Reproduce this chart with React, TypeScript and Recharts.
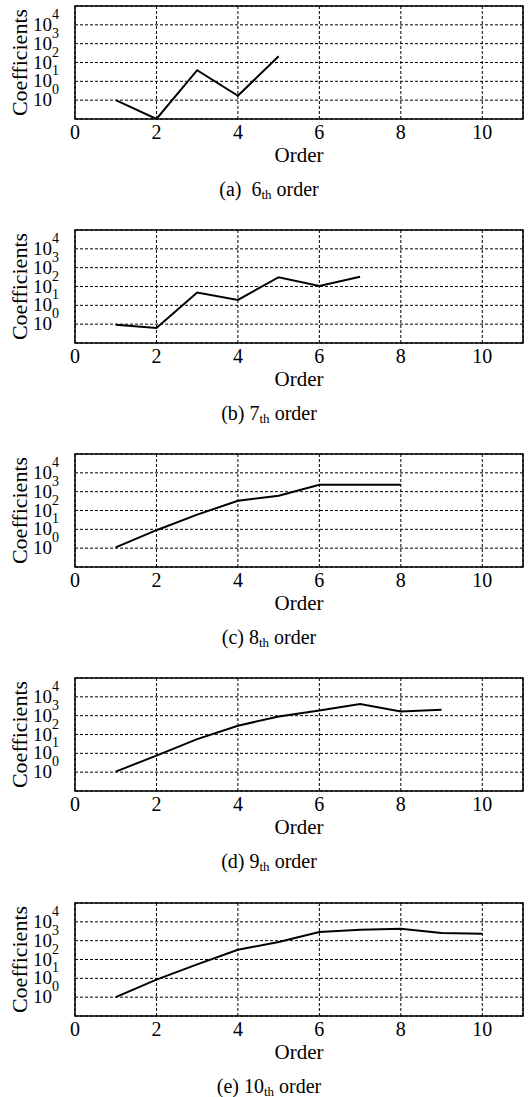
import React from "react";
import {
  LineChart,
  Line,
  XAxis,
  YAxis,
  CartesianGrid,
  ReferenceArea,
} from "recharts";

const orders = [1, 2, 3, 4, 5, 6, 7, 8, 9, 10];
const xTicks = [0, 2, 4, 6, 8, 10];
const yTicks = [1, 10, 100, 1000, 10000];

// coefficient magnitudes
const coef6 = [1, 0.1, 39, 1.7, 215];
const coef7 = [0.93, 0.62, 48, 19.5, 310, 107, 330];
const coef8 = [1.1, 9, 60, 330, 610, 2350, 2350, 2350];
const coef9 = [1.07, 7.6, 57, 290, 910, 1900, 4150, 1690, 2080];
const coef10 = [1, 8.5, 55, 330, 850, 2900, 3850, 4350, 2550, 2350];

const panels = [
  { tag: "(a)\u00a0\u00a06", coef: coef6 },
  { tag: "(b) 7", coef: coef7 },
  { tag: "(c) 8", coef: coef8 },
  { tag: "(d) 9", coef: coef9 },
  { tag: "(e) 10", coef: coef10 },
];

const panelTops = [0, 224, 448, 672, 897];

const font = "'Times New Roman', Times, 'Liberation Serif', serif";

function PowTick(props: any) {
  const { x, y, payload } = props;
  const exp = Math.round(Math.log10(payload.value));
  return (
    <text x={x} y={y} textAnchor="end" fontFamily={font} fill="#000">
      <tspan fontSize={19} dy={6}>10</tspan>
      <tspan fontSize={14} dy={-12}>{exp}</tspan>
    </text>
  );
}

function CoefLabel(props: any) {
  const vb = props.viewBox || {};
  const cy = vb.y + vb.height / 2;
  return (
    <text
      x={19}
      y={cy}
      transform={`rotate(-90, 19, ${cy})`}
      textAnchor="middle"
      dominantBaseline="central"
      fontFamily={font}
      fontSize={22}
      fill="#000"
    >
      Coefficients
    </text>
  );
}

function Panel({ coef, tag, top }: { coef: number[]; tag: string; top: number }) {
  const data = coef.map((c, i) => ({ x: orders[i], c }));
  return (
    <div style={{ position: "absolute", left: 0, top, width: 528, height: 200 }}>
      <LineChart
        width={528}
        height={160}
        data={data}
        margin={{ top: 6, right: 5, left: 0, bottom: 0 }}
      >
        <CartesianGrid stroke="#000" strokeDasharray="3 2" strokeWidth={1} />
        <XAxis
          dataKey="x"
          type="number"
          domain={[0, 11]}
          ticks={xTicks}
          interval={0}
          height={41}
          tickSize={0}
          tickMargin={6}
          axisLine={false}
          tick={{ fill: "#000", fontSize: 20, fontFamily: font }}
        />
        <YAxis
          scale="log"
          domain={[0.1, 100000]}
          ticks={yTicks}
          interval={0}
          allowDataOverflow
          width={75}
          tickSize={0}
          tickMargin={16}
          axisLine={false}
          tick={<PowTick />}
          label={<CoefLabel />}
        />
        <ReferenceArea
          x1={0}
          x2={11}
          y1={0.1}
          y2={100000}
          fill="none"
          fillOpacity={0}
          stroke="#000"
          strokeWidth={1.5}
          ifOverflow="visible"
        />
        <Line
          type="linear"
          dataKey="c"
          stroke="#000"
          strokeWidth={2}
          dot={false}
          isAnimationActive={false}
        />
      </LineChart>
      <div
        style={{
          position: "absolute",
          left: 249,
          width: 100,
          top: 144,
          textAlign: "center",
          fontFamily: font,
          fontSize: 21,
          lineHeight: "22px",
        }}
      >
        Order
      </div>
      <div
        style={{
          position: "absolute",
          left: 169,
          width: 200,
          top: 180,
          textAlign: "center",
          fontFamily: font,
          fontSize: 20,
          lineHeight: "18px",
          whiteSpace: "nowrap",
        }}
      >
        {tag}
        <sub style={{ fontSize: 13, verticalAlign: "-3px", lineHeight: "10px" }}>th</sub> order
      </div>
    </div>
  );
}

export default function App() {
  return (
    <div
      style={{
        position: "absolute",
        left: 0,
        top: 0,
        width: 528,
        height: 1097,
        background: "#fff",
        overflow: "hidden",
        fontFamily: font,
      }}
    >
      {panels.map((p, i) => (
        <Panel key={i} coef={p.coef} tag={p.tag} top={panelTops[i]} />
      ))}
    </div>
  );
}
